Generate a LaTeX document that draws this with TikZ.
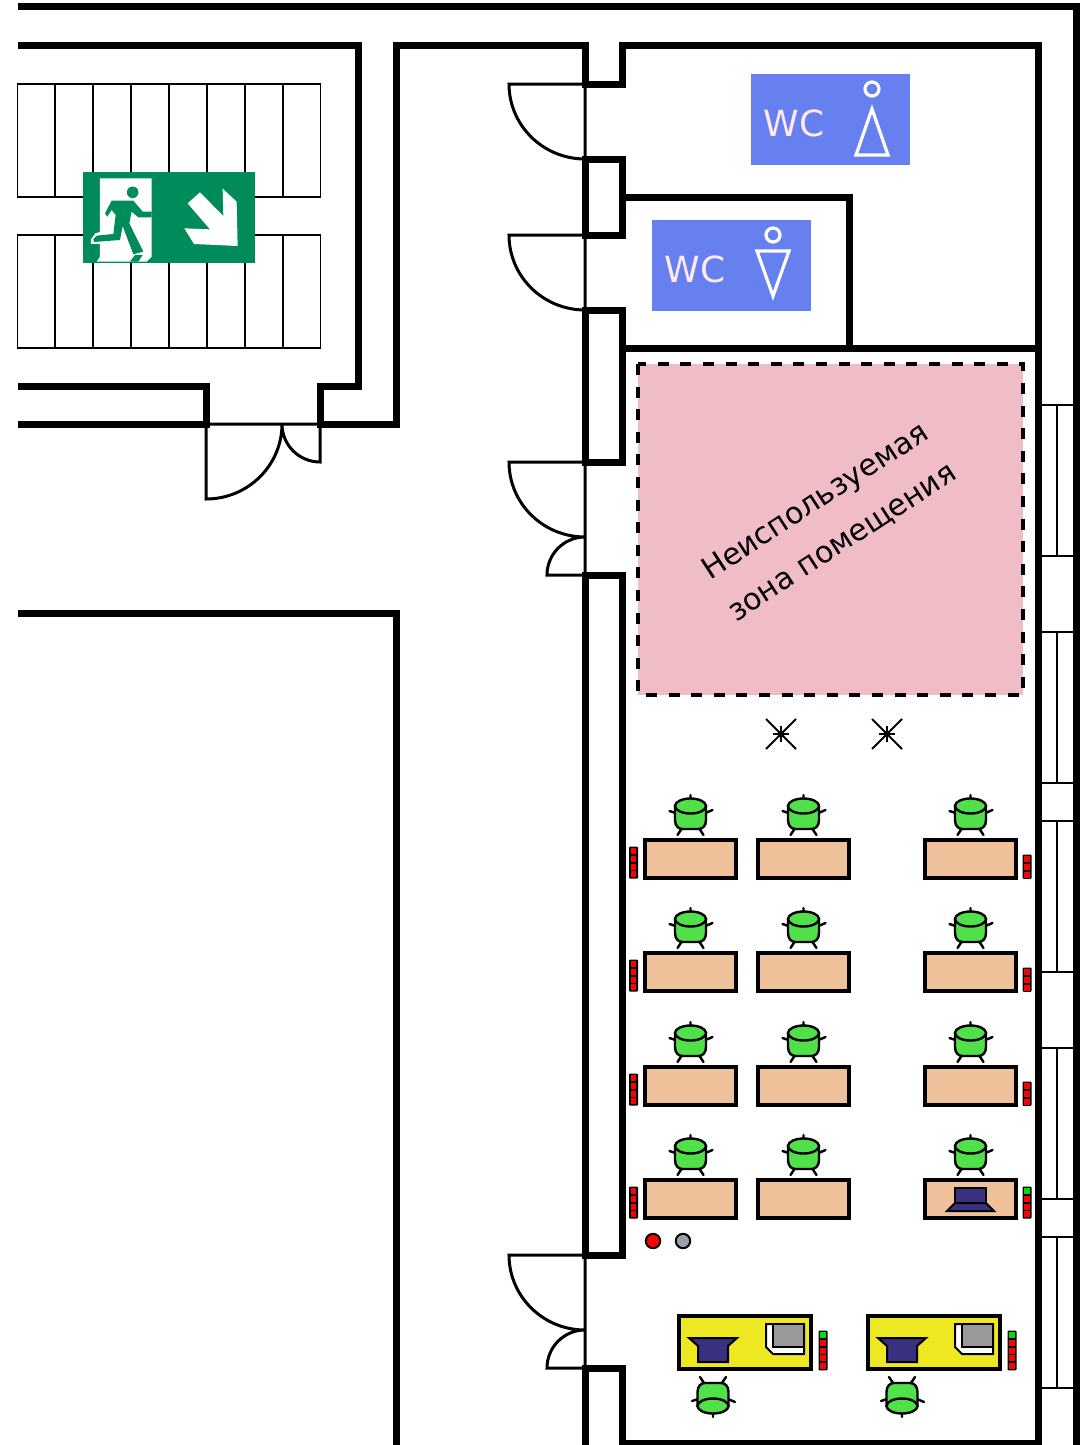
\documentclass[tikz,border=0pt]{standalone}
\usepackage{fontspec}
\setmainfont{DejaVu Sans}
\definecolor{signgreen}{HTML}{008C5A}
\definecolor{wcblue}{HTML}{6680F0}
\definecolor{wctext}{HTML}{FDEAEA}
\definecolor{zonepink}{HTML}{F0BCC6}
\definecolor{deskwood}{HTML}{EFC19A}
\definecolor{deskyellow}{HTML}{EEE823}
\definecolor{chairgreen}{HTML}{50E04A}
\definecolor{screenblue}{HTML}{3A3080}
\definecolor{ledgreen}{HTML}{00E000}
\definecolor{buttongray}{HTML}{9AA0AC}
\tikzset{
  wall/.style={line width=7pt,miter limit=10},
  thinwall/.style={line width=3pt},
  thinline/.style={line width=1.6pt},
  desk/.style={draw,line width=3.6pt,fill=deskwood},
  wcsign/.style={fill=wcblue,minimum width=159pt,minimum height=91pt,inner sep=0pt},
  wcglyph/.style={draw=white,line width=3.2pt},
  pics/chair/.style={code={
    \draw[line width=2.4pt,line cap=round] (0,-7) -- (0,-11) (-15,7) -- (-21,5) (15,7) -- (22,4)
      (-9,23) -- (-13,29) (9,23) -- (13,29);
    \draw[line width=2.4pt,fill=chairgreen] (-15.5,0) -- (-15.5,14) .. controls (-15.5,20) and (-12,23) .. (-8,23)
      -- (8,23) .. controls (12,23) and (15.5,20) .. (15.5,14) -- (15.5,0) -- cycle;
    \draw[line width=2.4pt,fill=chairgreen] (0,0) ellipse (15.5 and 7.5);
  }}
}
\newcommand{\ledstrip}[4]{% x, top y, number of lamps, colour of the top lamp
  \fill[black,rounded corners=1pt] (#1-0.5,#2-0.5) rectangle (#1+8.5,#2+7.75*#3+0.5);
  \foreach \lamp in {1,...,#3} {
    \ifnum\lamp=1 \def\lampcol{#4}\else\def\lampcol{red}\fi
    \fill[\lampcol] (#1+1.2,#2+7.75*\lamp-6.6) rectangle (#1+6.8,#2+7.75*\lamp-0.6);
  }
}
\begin{document}
\begin{tikzpicture}[x=1pt,y=-1pt]
\useasboundingbox (0,0) rectangle (1086,1445);
% stairs
\foreach \sy in {84,235} {
  \foreach \sx in {17.5,55.5,93.5,131,169,207,245,283} {
    \draw[thinline] (\sx,\sy) rectangle ++(37.5,113);
  }
}
% walls
\draw[wall] (18,7) -- (1076,7) -- (1076,1450);
\draw[wall] (18,46) -- (358,46) -- (358,386) -- (320,386) -- (320,424) -- (396,424) -- (396,46) -- (585,46) -- (585,84) -- (622,84) -- (622,46) -- (1038,46) -- (1038,1443) -- (622,1443) -- (622,1368) -- (585,1368) -- (585,1450);
\draw[wall] (18,386) -- (206,386) -- (206,424) -- (18,424);
\draw[wall] (18,613) -- (396,613) -- (396,1450);
\draw[wall] (585,159) -- (622,159) -- (622,235) -- (585,235) -- cycle;
\draw[wall] (585,310) -- (622,310) -- (622,462) -- (585,462) -- cycle;
\draw[wall] (585,575) -- (622,575) -- (622,1255) -- (585,1255) -- cycle;
\draw[wall] (622,197) -- (849,197) -- (849,348);
\draw[wall] (622,348) -- (1038,348);
% doors
\foreach \dy in {84,235} {
  \draw[thinwall] (585,\dy) -- (585,\dy+75) (585,\dy) -- (509,\dy) arc[start angle=180,end angle=270,x radius=76,y radius=-75];
}
\foreach \dy in {462,1255} {
  \draw[thinwall] (585,\dy) -- (585,\dy+113) (585,\dy) -- (509,\dy) arc[start angle=180,end angle=270,x radius=76,y radius=-75]
    arc[start angle=90,end angle=180,x radius=38,y radius=-38] -- (585,\dy+113);
}
\draw[thinwall] (206,424) -- (320,424) (206,424) -- (206,499) arc[start angle=270,end angle=360,x radius=76,y radius=-75]
  arc[start angle=180,end angle=270,x radius=38,y radius=-38] -- (320,424);
% windows
\foreach \wy in {405,632,821,1048,1237} {
  \draw[thinline] (1041,\wy) -- (1073,\wy) (1041,\wy+151) -- (1073,\wy+151) (1057,\wy) -- (1057,\wy+151);
}
% exit sign
\fill[signgreen] (83,172) rectangle (255,263);
\begin{scope}[shift={(70,160)},x=0.3333pt,y=-0.3333pt]
  \fill[white] (90,55) -- (245,55) -- (245,290) -- (230,305) -- (80,305) -- (90,290) -- cycle;
  \fill[white] (90,216) -- (76,220) -- (63,238) -- (63,252) -- (90,252) -- cycle;
  \fill[signgreen] (188,97) circle[radius=5.8pt];
  \fill[signgreen] (125,122) -- (190,122) -- (218,155) -- (245,155) -- (245,172) -- (205,172) -- (185,155) -- (178,190)
    -- (220,275) -- (190,283) -- (158,198) -- (150,240) -- (72,246) -- (70,238) -- (80,227) -- (130,222) -- (137,165)
    -- (125,150) -- (112,170) -- (105,160) -- cycle;
  \fill[signgreen] (180,305) -- (195,285) -- (218,285) -- (205,305) -- cycle;
  \fill[white] (458,86) -- (500,125) -- (503,258) -- (372,252) -- (343,205) -- (420,208) -- (353,130) -- (390,97) -- (460,168) -- cycle;
\end{scope}
% wc
\node[wcsign,anchor=north west] (wcwomen) at (751,74) {};
\node[wcsign,anchor=north west] (wcmen) at (652,220) {};
\node[text=wctext,font=\fontsize{36}{40}\selectfont] (wcwomentext) at (794,123) {WC};
\node[text=wctext,font=\fontsize{36}{40}\selectfont] (wcmentext) at (695,269) {WC};
\draw[wcglyph] (872,89) circle[radius=7pt];
\draw[wcglyph,miter limit=10] (872,109) -- (888,155) -- (856,155) -- cycle;
\draw[wcglyph] (773,235) circle[radius=7pt];
\draw[wcglyph,miter limit=10] (773,296) -- (757,251) -- (789,251) -- cycle;
% unused zone
\draw[line width=3.5pt,fill=zonepink,dash pattern=on 11pt off 11.6pt] (638,364) rectangle (1023,695);
\node[rotate=33,align=center,font=\fontsize{30}{49}\selectfont] (zonetext) at (829,522) {Неиспользуемая\\зона помещения};
% lamps
\foreach \lx in {781,887} {
  \draw[line width=2pt] (\lx-15,719) -- (\lx+15,749) (\lx-15,749) -- (\lx+15,719);
  \draw[line width=2.4pt] (\lx-8,734) -- (\lx+8,734) (\lx,726) -- (\lx,742);
  \fill (\lx,734) circle[radius=3.5pt];
}
% office
\foreach \ty in {840,953,1067,1180} {
  \foreach \tx in {645,758,925} {
    \draw[desk] (\tx,\ty) rectangle ++(91,38);
    \pic at (\tx+45.5,\ty-34) {chair};
  }
  \ledstrip{629.5}{\ty+7}{4}{red}
}
\foreach \ty in {840,953,1067} {
  \ledstrip{1023}{\ty+15}{3}{red}
}
\ledstrip{1023}{1187}{4}{ledgreen}
% laptop
\draw[line width=2pt,fill=screenblue] (955,1188) rectangle (986,1203);
\draw[line width=2pt,fill=screenblue] (955,1203) -- (986,1203) -- (994,1211) -- (947,1211) -- cycle;
% call buttons
\draw[line width=2pt,fill=red] (653,1241) circle[radius=7.2pt];
\draw[line width=2pt,fill=buttongray] (683,1241) circle[radius=7.2pt];
% reception
\foreach \rx in {679,868} {
  \draw[line width=4pt,fill=deskyellow] (\rx,1316) rectangle ++(132,53);
  \draw[line width=2pt,fill=screenblue] (\rx+10,1338) -- (\rx+58,1338) -- (\rx+49,1346) -- (\rx+49,1362) -- (\rx+19,1362) -- (\rx+19,1346) -- cycle;
  \draw[line width=2pt,fill=white] (\rx+87,1324) -- (\rx+125,1324) -- (\rx+125,1354) -- (\rx+94,1354) -- (\rx+87,1347) -- cycle;
  \draw[line width=2pt,fill=gray!80] (\rx+94,1324) rectangle (\rx+125,1347);
  \pic[yscale=-1] at (\rx+34,1406) {chair};
  \ledstrip{\rx+140}{1331}{5}{ledgreen}
}
\end{tikzpicture}
\end{document}
